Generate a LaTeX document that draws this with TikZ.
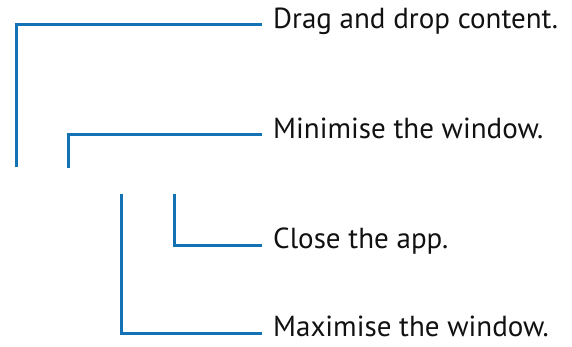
\documentclass[tikz,border=0pt]{standalone}
\usepackage{fontspec}
\setmainfont{PT Sans}
\usetikzlibrary{positioning}
\definecolor{leadblue}{HTML}{1372B4}
\definecolor{ink}{HTML}{111111}

\begin{document}
\begin{tikzpicture}[x=1pt, y=-1pt, ink,
    lead/.style={draw=leadblue, line width=3pt},
    callout/.style={anchor=west, inner xsep=11pt, inner ysep=0pt, font=\fontsize{29}{32}\selectfont,
      text height=0.85em, text depth=0.15em},
  ]
% --- Frame ----------------------------------------------------------------------
\useasboundingbox (0,0) rectangle (572,347);

% --- Callouts: number/line y/foot x/foot y/text -------------------------------
\foreach \n/\ly/\fx/\fy/\txt in {
  1/25/16/167/{Drag and drop content.},
  2/135/68/168/{Minimise the window.},
  3/245/174/194/{Close the app.},
  4/333/121/194/{Maximise the window.}}
{
  \node[callout] (lbl\n) at (262,\ly) {\txt};
  \coordinate (foot\n) at (\fx,\fy);
  \draw[lead] (foot\n) |- (lbl\n.west);
}
\end{tikzpicture}
\end{document}
